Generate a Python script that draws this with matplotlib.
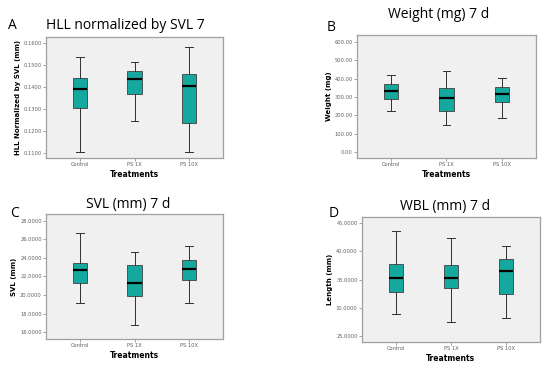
import matplotlib
matplotlib.use("Agg")
import matplotlib.pyplot as plt

treatments = ["Control", "PS 1X", "PS 10X"]

# per panel: (whisker low, Q1, median, Q3, whisker high) per treatment
hll = [(0.1105, 0.1305, 0.1390, 0.1439, 0.1535),
       (0.1243, 0.1366, 0.1436, 0.1472, 0.1512),
       (0.1102, 0.1237, 0.1404, 0.1458, 0.1580)]
weight = [(225, 288, 335, 369, 421),
          (148, 222, 292, 348, 440),
          (186, 272, 317, 353, 404)]
svl = [(19.10, 21.26, 22.70, 23.40, 26.64),
       (16.75, 19.93, 21.30, 23.23, 24.63),
       (19.10, 21.60, 22.77, 23.74, 25.28)]
wbl = [(28.9, 32.8, 35.2, 37.7, 43.6),
       (27.6, 33.5, 35.2, 37.5, 42.4),
       (28.2, 32.4, 36.6, 38.7, 40.9)]

hll_ticks = [0.11, 0.12, 0.13, 0.14, 0.15, 0.16]
weight_ticks = [0, 100, 200, 300, 400, 500, 600]
svl_ticks = [16, 18, 20, 22, 24, 26, 28]
wbl_ticks = [25, 30, 35, 40, 45]

panels = [
    dict(data=hll, ticks=hll_ticks, fmt="{:.4f}", ylim=(0.1077, 0.1627),
         ylabel="HLL Normalized by SVL (mm)", title="HLL normalized by SVL 7",
         letter="A", rect=[0.0836, 0.5707, 0.322, 0.3288],
         title_xy=(0.0836, 0.93), title_ha="left", letter_xy=(0.014, 0.93)),
    dict(data=weight, ticks=weight_ticks, fmt="{:.2f}", ylim=(-31, 636),
         ylabel="Weight (mg)", title="Weight (mg) 7 d",
         letter="B", rect=[0.649, 0.5707, 0.3255, 0.334],
         title_xy=(0.797, 0.96), title_ha="center", letter_xy=(0.593, 0.925)),
    dict(data=svl, ticks=svl_ticks, fmt="{:.4f}", ylim=(15.28, 28.72),
         ylabel="SVL (mm)", title="SVL (mm) 7 d",
         letter="C", rect=[0.0836, 0.0788, 0.322, 0.340],
         title_xy=(0.233, 0.443), title_ha="center", letter_xy=(0.018, 0.42)),
    dict(data=wbl, ticks=wbl_ticks, fmt="{:.4f}", ylim=(24.0, 46.06),
         ylabel="Length (mm)", title="WBL (mm) 7 d",
         letter="D", rect=[0.658, 0.0707, 0.3236, 0.340],
         title_xy=(0.81, 0.44), title_ha="center", letter_xy=(0.598, 0.42)),
]

fig = plt.figure(figsize=(5.5, 3.68), dpi=100)
fig.patch.set_facecolor("white")

for p in panels:
    ax = fig.add_axes(p["rect"])
    ax.set_facecolor("#f0f0f0")
    stats = []
    for name, (lo, q1, med, q3, hi) in zip(treatments, p["data"]):
        stats.append(dict(label=name, whislo=lo, q1=q1, med=med, q3=q3, whishi=hi, fliers=[]))
    ax.bxp(stats, positions=[1, 2, 3], widths=0.26, showfliers=False,
           patch_artist=True, capwidths=0.14,
           boxprops=dict(facecolor="#14a89f", edgecolor="#404040", linewidth=0.6),
           medianprops=dict(color="black", linewidth=1.6),
           whiskerprops=dict(color="#303030", linewidth=0.7),
           capprops=dict(color="#303030", linewidth=0.7))
    ax.set_xlim(0.38, 3.62)
    ax.set_ylim(*p["ylim"])
    ax.set_yticks(p["ticks"])
    ax.set_yticklabels([p["fmt"].format(t) for t in p["ticks"]])
    ax.tick_params(axis="both", labelsize=3.7, colors="#808080", length=2, width=0.5,
                   pad=1, labelcolor="#606060")
    for s in ax.spines.values():
        s.set_color("#a0a0a0")
        s.set_linewidth(0.9)
    ax.set_ylabel(p["ylabel"], fontsize=5, fontweight="bold", labelpad=2)
    ax.set_xlabel("Treatments", fontsize=5.5, fontweight="bold", labelpad=2)
    fig.text(p["title_xy"][0], p["title_xy"][1], p["title"], fontsize=10,
             family="Open Sans", ha=p["title_ha"], va="center")
    fig.text(p["letter_xy"][0], p["letter_xy"][1], p["letter"], fontsize=10,
             family="Open Sans", ha="left", va="center")

fig.savefig("out.png", dpi=100)
